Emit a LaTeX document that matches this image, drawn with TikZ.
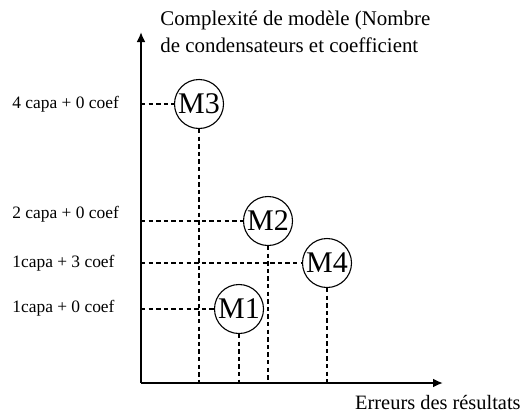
\documentclass[tikz,border=0pt]{standalone}
\usepackage{fontspec}
\setmainfont{Liberation Serif}
\usetikzlibrary{arrows.meta}
\begin{document}
\begin{tikzpicture}[x=0.5pt,y=-0.5pt,
  axis/.style={line width=1pt,-{Latex[length=5pt,width=4.5pt]}},
  dline/.style={line width=0.55pt,dash pattern=on 2.2pt off 1.6pt},
  model/.style={circle,draw,line width=0.55pt,inner sep=0pt,minimum size=24.5pt,font=\fontsize{15}{15}\selectfont},
  lbl/.style={anchor=west,inner sep=0pt,font=\fontsize{8.7}{10}\selectfont},
  ttl/.style={anchor=west,inner sep=0pt,font=\fontsize{10.45}{12}\selectfont}]
\useasboundingbox (0,0) rectangle (523,412);
\coordinate (O) at (141,383);
\coordinate (ytip) at (141,32);
\coordinate (xtip) at (443,383);
\draw[axis] (O) -- (ytip);
\draw[axis] (O) -- (xtip);
\node[ttl] (t1) at (160,20) {Complexité de modèle (Nombre};
\node[ttl] (t2) at (160,45) {de condensateurs et coefficient};
\node[anchor=east,inner sep=0pt,font=\fontsize{10.2}{12}\selectfont] (xl) at (521,402) {Erreurs des résultats};
\node[model] (m3) at (199,104) {M3};
\node[model] (m2) at (268,221) {M2};
\node[model] (m4) at (327,263) {M4};
\node[model] (m1) at (239,309) {M1};
\node[lbl] (l3) at (12,104) {4 capa + 0 coef};
\node[lbl] (l2) at (12,214) {2 capa + 0 coef};
\node[lbl] (l4) at (12,263) {1capa + 3 coef};
\node[lbl] (l1) at (12,308) {1capa + 0 coef};
\foreach \m in {m1,m2,m3,m4}{
  \draw[dline] (\m.west -| O) -- (\m.west);
  \draw[dline] (\m.south) -- (\m.south |- O);
}
\end{tikzpicture}
\end{document}
